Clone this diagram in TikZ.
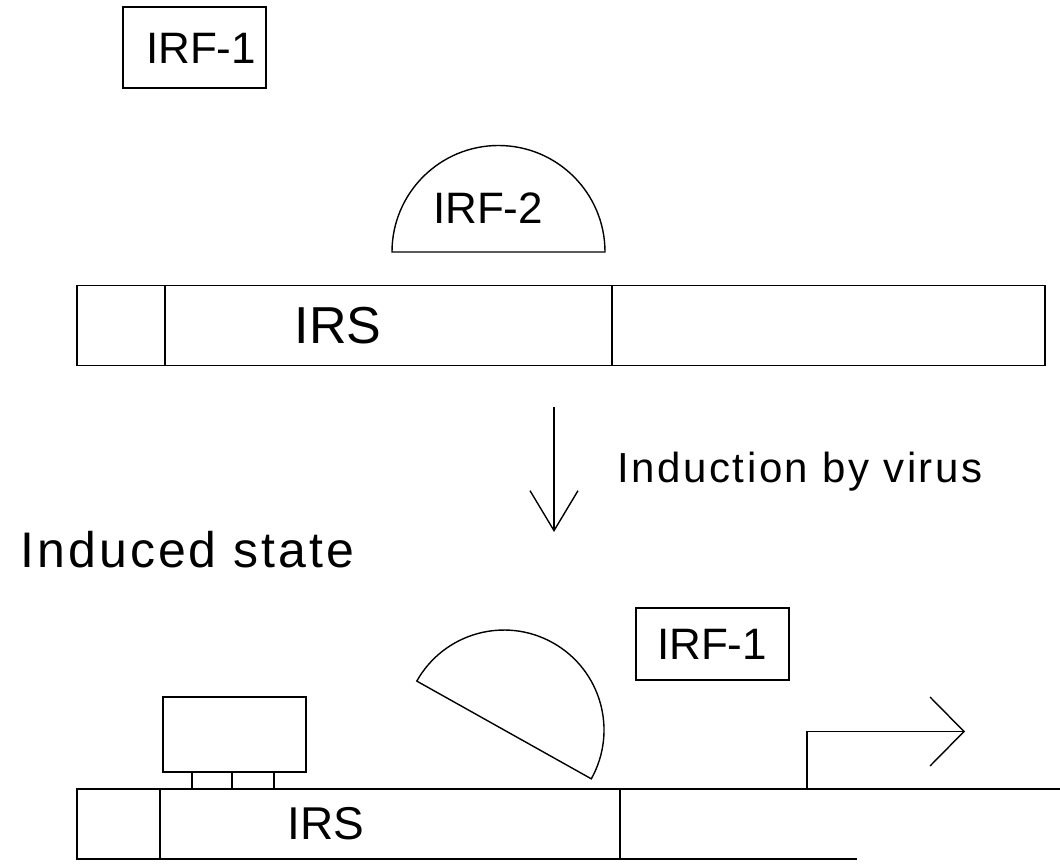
\documentclass[tikz,border=0pt]{standalone}
\usepackage{fontspec}
\setmainfont{Liberation Sans}
\usetikzlibrary{arrows.meta}
\begin{document}
\begin{tikzpicture}[x=1pt,y=-1pt,line width=1.4pt,
  lbl/.style={inner sep=0pt,font=\fontsize{44}{44}\selectfont},
  irs/.style={inner sep=0pt,font=\fontsize{#1}{#1}\selectfont},
  caption/.style={inner sep=0pt,anchor=base west,
    font=\fontsize{#1}{#1}\selectfont\addfontfeature{LetterSpace=6}}]
\useasboundingbox (0,0) rectangle (1060,866);

% free IRF-1 above the promoter
\draw (123,7) rectangle (266,88);
\node[lbl] (irfA) at (201,48) {IRF-1};

% IRF-2 bound to the IRS
\draw (392,252) arc[start angle=180,end angle=360,radius=106.5] -- cycle;
\node[lbl] (irfB) at (488,208) {IRF-2};

% uninduced promoter
\draw (77,285.5) rectangle (1045,365.5);
\draw (165,285.5) -- (165,365.5);
\draw (612,285.5) -- (612,365.5);
\node[irs=52] (irsA) at (338,326) {IRS};

% induction step
\coordinate (indTop) at (554,407);
\coordinate (indTip) at (554,532);
\draw[-{Straight Barb[length=40pt,width=48pt]}] (indTop) -- (indTip);
\node[caption=42] (induction) at (617,482) {Induction by virus};
\node[caption=50] (induced) at (20,567) {Induced state};

% IRF-1 after induction
\draw (636,608) rectangle (789,680);
\node[lbl] (irfC) at (712,644) {IRF-1};

% displaced IRF-2
\draw (416.8,681.1) arc[start angle=209.3,end angle=389.2,radius=100] -- cycle;

% factor sitting on the IRS
\draw (163,697) rectangle (306,772);
\draw (192,772) rectangle (274,789);
\draw (232,772) -- (232,789);

% induced promoter, open to the right
\draw (1060,789) -- (77,789) -- (77,859) -- (857,859);
\draw (160,789) -- (160,859);
\draw (620,789) -- (620,859);
\node[irs=46] (irsB) at (326,824) {IRS};

% transcription start
\coordinate (tss) at (807,789);
\coordinate (tssEnd) at (965,731.5);
\draw[-{Straight Barb[length=34pt,width=69pt]}] (tss) |- (tssEnd);
\end{tikzpicture}
\end{document}
